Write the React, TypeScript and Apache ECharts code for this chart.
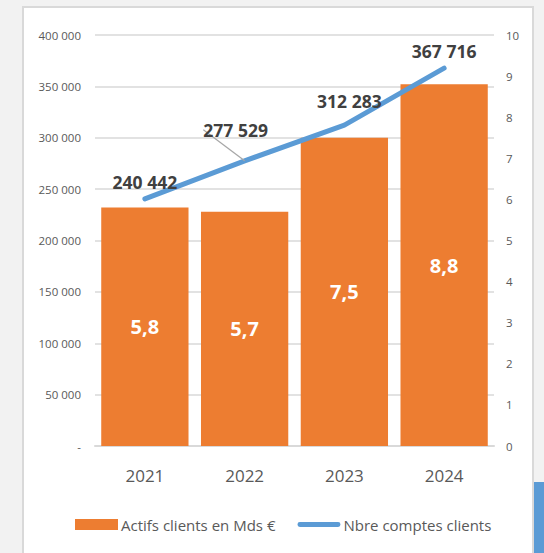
import React, { useEffect, useRef } from "react";
import * as echarts from "echarts";

const years = ["2021", "2022", "2023", "2024"];
const actifs = [5.8, 5.7, 7.5, 8.8];
const comptes = [240442, 277529, 312283, 367716];
const seriesNames = ["Actifs clients en Mds €", "Nbre comptes clients"];

const FONT = "'Open Sans', 'Noto Sans', sans-serif";
const fmtThousands = (v: number) =>
  String(Math.round(v)).replace(/\B(?=(\d{3})+(?!\d))/g, " ");

export default function App() {
  const ref = useRef<HTMLDivElement>(null);
  useEffect(() => {
    if (!ref.current) return;
    const chart = echarts.init(ref.current, null, { renderer: "svg" });
    chart.setOption({
      animation: false,
      backgroundColor: "transparent",
      textStyle: { fontFamily: FONT },
      grid: { left: 95, right: 50, top: 35, bottom: 107, containLabel: false },
      legend: {
        bottom: 16,
        left: 70,
        itemWidth: 43,
        itemHeight: 11,
        itemGap: 22,
        textStyle: { color: "#595959", fontSize: 15, fontFamily: FONT, padding: [0, 0, 0, -2] },
        data: [
          { name: seriesNames[0], icon: "rect" },
          {
            name: seriesNames[1],
            icon: "path://M2.5,0 L42.5,0 A2.5,2.5 0 0 1 42.5,5 L2.5,5 A2.5,2.5 0 0 1 2.5,0 Z",
          },
        ],
      },
      xAxis: {
        type: "category",
        data: years,
        axisLine: { lineStyle: { color: "#d9d9d9", width: 2 } },
        axisTick: { show: false },
        axisLabel: { color: "#595959", fontSize: 17, margin: 21, fontFamily: FONT },
      },
      yAxis: [
        {
          type: "value",
          min: 0,
          max: 400000,
          interval: 50000,
          axisLine: { show: false },
          axisTick: { show: false },
          splitLine: { lineStyle: { color: "#d9d9d9", width: 1.5 } },
          axisLabel: {
            color: "#595959",
            fontSize: 11.5,
            margin: 14,
            fontFamily: FONT,
            formatter: (v: number) => (v === 0 ? "-" : fmtThousands(v)),
          },
        },
        {
          type: "value",
          min: 0,
          max: 10,
          interval: 1,
          axisLine: { show: false },
          axisTick: { show: false },
          splitLine: { show: false },
          axisLabel: { color: "#595959", fontSize: 11.5, margin: 12, fontFamily: FONT },
        },
      ],
      series: [
        {
          name: seriesNames[0],
          type: "bar",
          yAxisIndex: 1,
          data: actifs,
          barCategoryGap: "12.5%",
          itemStyle: { color: "#ed7d31" },
          label: {
            show: true,
            position: "inside",
            color: "#ffffff",
            fontWeight: "bold",
            fontSize: 20,
            fontFamily: FONT,
            formatter: (p: any) => String(p.value).replace(".", ","),
          },
        },
        {
          name: seriesNames[1],
          type: "line",
          yAxisIndex: 0,
          data: comptes.map((v, i) =>
            i === 1
              ? { value: v, labelLine: { show: true, lineStyle: { color: "#a6a6a6", width: 1.2 } } }
              : v
          ),
          z: 5,
          symbol: "circle",
          symbolSize: 0,
          showSymbol: true,
          itemStyle: { color: "#5b9bd5" },
          lineStyle: { color: "#5b9bd5", width: 5, cap: "round", join: "round" },
          label: {
            show: true,
            position: "top",
            distance: 8,
            color: "#404040",
            fontWeight: "bold",
            fontSize: 17.5,
            fontFamily: FONT,
            formatter: (p: any) => fmtThousands(p.value),
          },
          labelLine: { show: false },
          labelLayout: (p: any) => {
            if (p.dataIndex === 1) return { dx: -9, dy: -14 };
            if (p.dataIndex === 2) return { dx: 5, dy: -7 };
            return {};
          },
        },
      ],
    });
    return () => chart.dispose();
  }, []);

  return (
    <div
      style={{
        position: "fixed",
        left: 0,
        top: 0,
        width: 544,
        height: 553,
        background: "#f2f2f2",
        overflow: "hidden",
      }}
    >
      <div
        style={{
          position: "absolute",
          left: 22,
          top: 6,
          width: 508,
          height: 600,
          background: "#ffffff",
          border: "2px solid #d9d9d9",
        }}
      />
      <div
        style={{
          position: "absolute",
          left: 534,
          top: 482,
          width: 10,
          height: 71,
          background: "#5b9bd5",
        }}
      />
      <div ref={ref} style={{ position: "absolute", left: 0, top: 0, width: 544, height: 553 }} />
    </div>
  );
}
